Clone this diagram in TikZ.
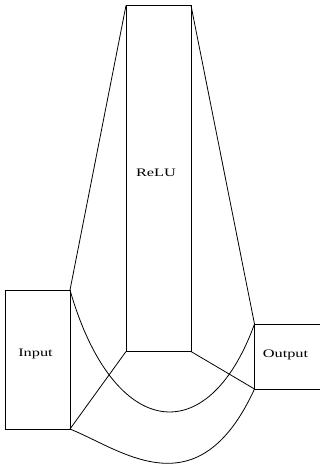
\documentclass[tikz,border=0pt]{standalone}
\usepackage{fontspec}
\setmainfont{Liberation Serif}
\begin{document}
\begin{tikzpicture}[x=1pt,y=-1pt,
  box/.style={draw, line width=0.8pt, inner sep=0pt, outer sep=0pt, anchor=north west},
  lbl/.style={font=\fontsize{11.5}{12}\selectfont, inner sep=0pt, anchor=base},
  conn/.style={line width=0.8pt}]
\useasboundingbox (0,0) rectangle (320,464);
\clip (0,0) rectangle (320,464);
\node[box, minimum width=64.5pt, minimum height=139pt] (in) at (5.5,290) {};
\node[box, minimum width=65pt, minimum height=346pt] (relu) at (126,5.5) {};
\node[box, minimum width=90pt, minimum height=65pt] (out) at (254.5,324) {};
\node[lbl] (inlbl) at (35.5,356.5) {\scalebox{1.42}[1]{Input}};
\node[lbl] (relulbl) at (156,176) {\scalebox{1.42}[1]{ReLU}};
\node[lbl] (outlbl) at (285.5,357.3) {\scalebox{1.42}[1]{Output}};
\draw[conn] (in.north east) -- (relu.north west);
\draw[conn] (in.south east) -- (relu.south west);
\draw[conn] (relu.north east) -- (out.north west);
\draw[conn] (relu.south east) -- (out.south west);
\draw[conn] (in.north east) .. controls (113,440) and (208,452) .. (out.north west);
\draw[conn] (in.south east) .. controls (122,450) and (198,512) .. (out.south west);
\end{tikzpicture}
\end{document}
